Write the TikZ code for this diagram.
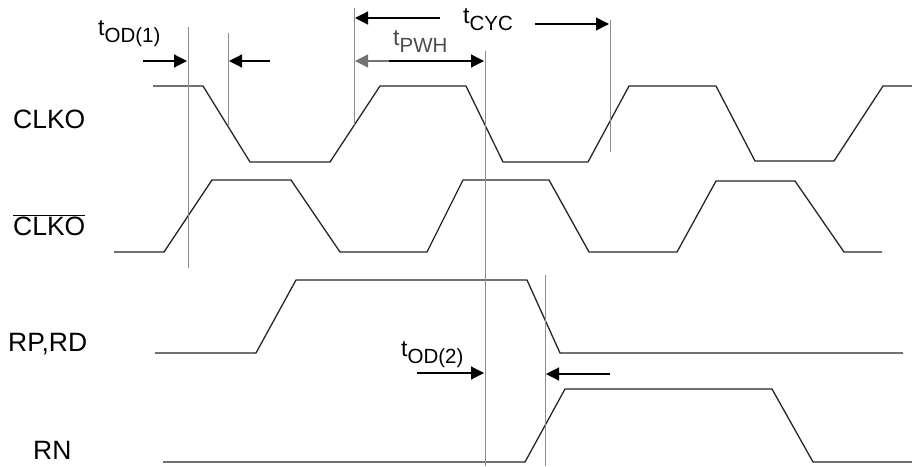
\documentclass[tikz,border=0pt]{standalone}
\usepackage{fontspec}
\setmainfont{Liberation Sans}
\usepackage{tikz}
\usetikzlibrary{arrows.meta}
\tikzset{sig/.style={draw=black!85, line width=1.3pt, line join=miter},
 guide/.style={draw=black!45, line width=1pt},
 tarrow/.style={line width=1.2pt, -{Triangle[length=13pt,width=13pt]}},
 lab/.style={inner sep=0pt, anchor=base west, font=\fontsize{26.5}{26.5}\selectfont},
 tlab/.style={inner sep=0pt, anchor=base west},
 }
\newcommand{\tsub}[1]{{\fontsize{23}{23}\selectfont t}\raisebox{-7pt}{\fontsize{20.5}{20.5}\selectfont #1}}

\begin{document}
\begin{tikzpicture}[x=1pt, y=-1pt]
        \useasboundingbox (0,0) rectangle (912,466);
        \node[lab] (clko) at (13,128) {CLKO};
        \node[lab] (clkob) at (13,235) {$\overline{\mbox{CLKO}}$};
        \node[lab] (rprd) at (8,351) {RP,RD};
        \node[lab] (rn) at (33,459) {RN};

        \draw[sig] (153,86) -- (203,86) -- (250,162) -- (330,162) -- (380,86) -- (466,86) -- (503,162) -- (588,162)
            -- (629,86) -- (716,86) -- (755,161) -- (834,161) -- (883,86) -- (912,86);
        \draw[sig] (114,252) -- (164,252) -- (212,180) -- (291,180) -- (340,252) -- (427,252) -- (463,180) -- (549,180)
            -- (589,252) -- (677,252) -- (716,181) -- (795,181) -- (844,252) -- (882,252);
        \draw[sig] (155,353) -- (256,353) -- (296,280) -- (527,280) -- (560,353) -- (903,353);
        \draw[sig] (163,462) -- (525,462) -- (565,389) -- (772,389) -- (813,462) -- (912,462);

        \draw[guide] (188,27) -- (188,268);
        \draw[guide] (228,33) -- (228,125);
        \draw[guide] (354,8) -- (354,125);
        \draw[guide] (485,51) -- (485,466);
        \draw[guide] (610,20) -- (610,152);
        \draw[guide] (545,275) -- (545,466);

        \node[tlab] (tod1) at (98,35) {\tsub{OD(1)}};
        \draw[tarrow] (143,61) -- (187,61);
        \draw[tarrow] (270,61) -- (229,61);

        \node[tlab] (tcyc) at (463,23) {\tsub{CYC}};
        \draw[tarrow] (440,18) -- (355,18);
        \draw[tarrow] (535,24) -- (609,24);

        \node[tlab, text=black!70] (tpwh) at (393,45) {\tsub{PWH}};
        \draw[tarrow, black!55] (390,61) -- (355,61);
        \draw[tarrow] (389,61) -- (484,61);

        \node[tlab] (tod2) at (401,356) {\tsub{OD(2)}};
        \draw[tarrow] (417,373) -- (484,373);
        \draw[tarrow] (610,374) -- (546,374);
\end{tikzpicture}
\end{document}
